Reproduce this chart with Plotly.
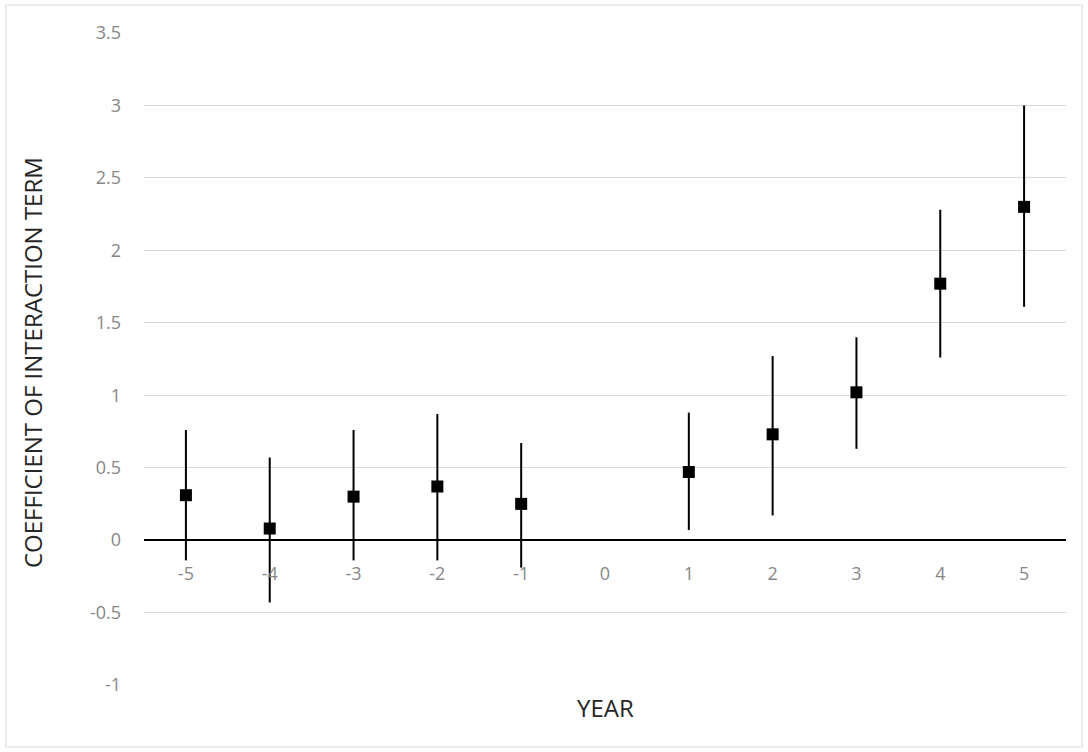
import plotly.graph_objects as go

years = [-5, -4, -3, -2, -1, 0, 1, 2, 3, 4, 5]
coef = [0.31, 0.08, 0.30, 0.37, 0.25, None, 0.47, 0.73, 1.02, 1.77, 2.30]
upper = [0.76, 0.57, 0.76, 0.87, 0.67, None, 0.88, 1.27, 1.40, 2.28, 3.00]
lower = [-0.14, -0.43, -0.14, -0.14, -0.19, None, 0.07, 0.17, 0.63, 1.26, 1.61]
y_ticks = [-1, -0.5, 0, 0.5, 1, 1.5, 2, 2.5, 3, 3.5]

err_plus = [None if c is None else u - c for c, u in zip(coef, upper)]
err_minus = [None if c is None else c - l for c, l in zip(coef, lower)]

ymin, ymax = -1, 3.5

fig = go.Figure()
fig.add_trace(go.Scatter(
    x=years, y=coef, mode="markers",
    marker=dict(symbol="square", size=12, color="black"),
    error_y=dict(type="data", symmetric=False, array=err_plus, arrayminus=err_minus,
                 color="black", thickness=2, width=0),
    showlegend=False,
))

tick_font = dict(family="Open Sans, sans-serif", size=18, color="#878787")

fig.update_layout(
    width=1088, height=752,
    margin=dict(l=144, r=22, t=33, b=67),
    paper_bgcolor="white", plot_bgcolor="white",
    xaxis=dict(
        type="linear", range=[-5.5, 5.5], tickvals=years, ticktext=[str(v) for v in years],
        showgrid=False, zeroline=False, showline=True, linecolor="black", linewidth=1.5,
        anchor="free", position=(0 - ymin) / (ymax - ymin),
        ticks="", tickfont=tick_font, ticklabelstandoff=18,
    ),
    yaxis=dict(
        range=[ymin, ymax], tickvals=y_ticks, ticktext=[f"{v:g}" for v in y_ticks],
        showgrid=True, gridcolor="#d9d9d9", gridwidth=1, zeroline=False,
        showline=False, ticks="", tickfont=tick_font, ticklabelstandoff=22,
    ),
    annotations=[
        dict(text="YEAR", xref="paper", yref="paper", x=0.5, y=(685 - 708) / 652,
             yanchor="middle", showarrow=False,
             font=dict(family="Open Sans, sans-serif", size=24, color="#262626")),
        dict(text="COEFFICIENT OF INTERACTION TERM", xref="paper", yref="paper",
             x=(32 - 144) / 922, y=(685 - 363) / 652, textangle=-90,
             xanchor="center", yanchor="middle", showarrow=False,
             font=dict(family="Open Sans, sans-serif", size=24, color="#262626")),
    ],
    shapes=[
        dict(type="rect", xref="paper", yref="paper",
             x0=(6 - 144) / 922, x1=(1082 - 144) / 922,
             y0=(685 - 747) / 652, y1=(685 - 5) / 652,
             line=dict(color="#d9d9d9", width=1), fillcolor="rgba(0,0,0,0)", layer="below"),
    ],
)

fig.write_html("out.html")
